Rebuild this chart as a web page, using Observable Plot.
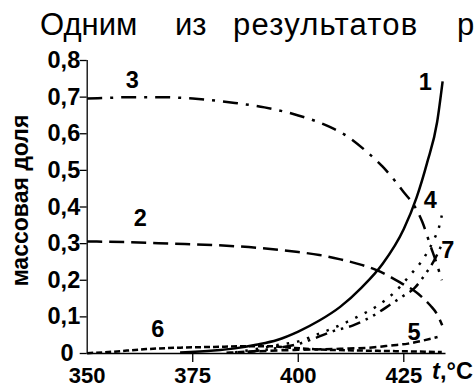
<!DOCTYPE html>
<html><head><meta charset="utf-8">
<script src="https://cdn.jsdelivr.net/npm/d3@7"></script>
<script src="https://cdn.jsdelivr.net/npm/@observablehq/plot@0.6"></script>
<style>
body{margin:0;background:#fff;}
#head{position:relative;height:40px;width:474px;font-family:"Liberation Sans",Arial,sans-serif;font-size:31px;line-height:31px;color:#000;}
#head span{position:absolute;top:9px;white-space:nowrap;}
#chart svg{overflow:visible;display:block;}
</style></head><body>
<div id="head"><span style="left:40px">Одним</span><span style="left:175px">из</span><span style="left:233px;letter-spacing:1.2px">результатов</span><span style="left:457px">р</span></div>
<div id="chart"></div>
<script>
// ---- data ----
const yTicks = [0, 0.1, 0.2, 0.3, 0.4, 0.5, 0.6, 0.7, 0.8];
const xTickLabels = [350, 375, 400, 425];
const xTickMarks = [375, 400, 425];
const yLabel = "массовая доля";

const t1 = [372, 380, 385, 390, 395, 400, 405, 410, 415, 420, 425, 428, 430.5, 432.9, 434.2];
const v1 = [0.003, 0.008, 0.014, 0.024, 0.037, 0.06, 0.09, 0.128, 0.18, 0.245, 0.34, 0.425, 0.52, 0.632, 0.743];

const t2 = [350, 360, 370, 380, 390, 400, 405, 410, 415, 418.7, 422, 425, 427.4, 429.5, 431.3, 433, 434.1];
const v2 = [0.306, 0.304, 0.3, 0.296, 0.289, 0.277, 0.269, 0.257, 0.242, 0.227, 0.208, 0.188, 0.172, 0.152, 0.131, 0.105, 0.077];

const t3 = [350, 355, 360, 367, 375, 385, 392, 400, 407.6, 412, 416.3, 420, 423, 425, 427.4, 429.4, 431.3, 432.8, 434];
const v3 = [0.696, 0.698, 0.7, 0.7, 0.696, 0.684, 0.672, 0.65, 0.618, 0.59, 0.55, 0.51, 0.47, 0.44, 0.405, 0.359, 0.295, 0.245, 0.2];

const t4 = [385, 390, 396, 400, 404.5, 409, 414, 418.7, 422.9, 426.4, 429.7, 432.3, 433.3, 434];
const v4 = [0.003, 0.012, 0.025, 0.033, 0.052, 0.073, 0.1, 0.13, 0.168, 0.213, 0.26, 0.315, 0.343, 0.377];

const t5 = [383, 390, 400, 410, 418, 422, 426, 429.4, 433];
const v5 = [0.002, 0.006, 0.01, 0.013, 0.017, 0.022, 0.027, 0.035, 0.045];

const t6 = [350, 355, 364, 372, 380, 388, 393, 398, 405, 415, 425, 434];
const v6 = [0.001, 0.004, 0.012, 0.016, 0.018, 0.02, 0.02, 0.016, 0.011, 0.008, 0.006, 0.004];

const t7 = [388, 395, 400, 404, 408, 413, 418, 422, 425, 427.4, 430, 432, 433.9];
const v7 = [0.004, 0.015, 0.026, 0.042, 0.06, 0.077, 0.105, 0.135, 0.158, 0.177, 0.215, 0.25, 0.295];

const labelText = ["1", "2", "3", "4", "5", "6", "7"];
const labelT = [430.1, 362.6, 360.7, 431.3, 427.4, 366.7, 435.4];
const labelV = [0.74, 0.368, 0.746, 0.418, 0.058, 0.066, 0.282];

// ---- styles ----
const FONT = '"Liberation Sans Narrow","Liberation Sans",Arial,sans-serif';
const FS = 23.5;
const dashes = {
  "1": null,
  "2": "15,7",
  "3": "15,8,3,8",
  "4": "2.5,8",
  "5": "7,4",
  "6": "6,3",
  "7": "12,6,2.5,6,2.5,6"
};
const seriesT = {"1": t1, "2": t2, "3": t3, "4": t4, "5": t5, "6": t6, "7": t7};
const seriesV = {"1": v1, "2": v2, "3": v3, "4": v4, "5": v5, "6": v6, "7": v7};

const lineMarks = Object.keys(seriesT).map(k => {
  const rows = seriesT[k].map((t, i) => ({t, v: seriesV[k][i]}));
  return Plot.line(rows, {x: "t", y: "v", curve: "monotone-x", stroke: "#000",
    strokeWidth: 2.5, strokeDasharray: dashes[k] || undefined, strokeLinecap: "butt"});
});

const labels = labelText.map((s, i) => ({s, t: labelT[i], v: labelV[i]}));
const yFmt = d => d === 0 ? "0\u00a0" : d.toFixed(1).replace(".", ",");

const chart = Plot.plot({
  width: 474, height: 349,
  marginLeft: 86.7, marginRight: 28.5, marginTop: 20, marginBottom: 36,
  x: {domain: [350, 435]},
  y: {domain: [0, 0.8]},
  style: {fontFamily: FONT, fontSize: FS + "px", fontWeight: "bold", color: "#000", background: "#fff", overflow: "visible"},
  marks: [
    Plot.ruleX([350], {y1: 0, y2: 0.8, stroke: "#000", strokeWidth: 1.3}),
    Plot.ruleY([0], {x1: 350, x2: 435, stroke: "#000", strokeWidth: 1.3}),
    Plot.axisY({ticks: yTicks, tickSize: 7, tickPadding: 0, tickFormat: yFmt, label: null, strokeWidth: 1.3}),
    Plot.axisX({ticks: xTickMarks, tickSize: 9, tickFormat: () => "", label: null, strokeWidth: 1.3}),
    Plot.axisX({ticks: xTickLabels, tickSize: 0, tickPadding: 14, fontSize: 22, tickFormat: d => String(d), label: null}),
    ...lineMarks,
    Plot.text(labels, {x: "t", y: "v", text: "s", fontSize: FS, fontWeight: "bold", fill: "#000"}),
    Plot.text([yLabel], {frameAnchor: "left", textAnchor: "middle", rotate: -90, dx: -66.7, dy: -6.5, fontSize: 23, fontWeight: "bold", fill: "#000", fontFamily: '"Liberation Sans",Arial,sans-serif'}),
    Plot.text(["t"], {x: [431.7], y: [0], lineAnchor: "bottom", textAnchor: "start", dy: 25, fontStyle: "italic", fontSize: FS, fontWeight: "bold", fill: "#000"}),
    Plot.text([",°C"], {x: [431.7], y: [0], lineAnchor: "bottom", textAnchor: "start", dx: 8, dy: 25, fontSize: FS, fontWeight: "bold", fill: "#000"})
  ]
});
document.getElementById("chart").appendChild(chart);
</script>
</body></html>
